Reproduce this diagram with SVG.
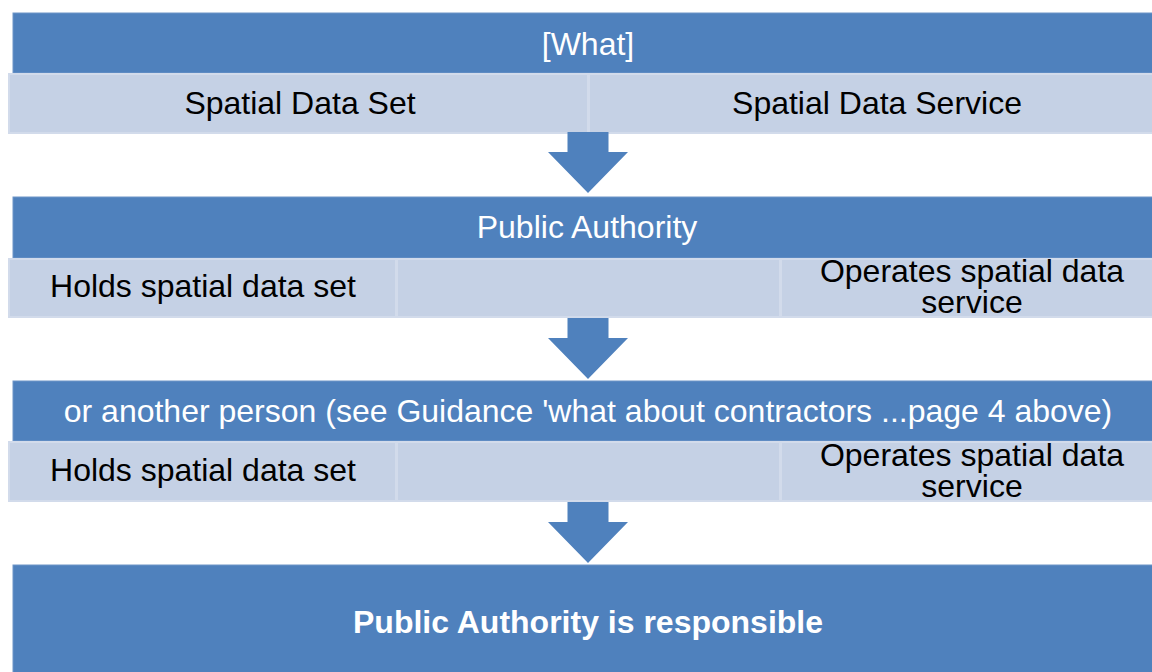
<svg xmlns="http://www.w3.org/2000/svg" width="1152" height="672" viewBox="0 0 1152 672">
<defs>
<style>
.hdr{fill:#4F81BD;stroke:#6F95C8;stroke-width:1}
.cell{fill:#C5D1E5;stroke:#D2DBEB;stroke-width:2}
.arr{fill:#4F81BD}
text{font-family:"Liberation Sans",Arial,sans-serif;font-size:32px;text-anchor:middle}
.w{fill:#FFFFFF}
.b{fill:#000000}
.bold{font-weight:bold}
</style>
<path id="arrow" d="M -20.5 0 L 20.5 0 L 20.5 20 L 40 20 L 0 61 L -40 20 L -20.5 20 Z"/>
</defs>
<rect width="1152" height="672" fill="#FFFFFF"/>
<g id="what-header">
<rect class="hdr" x="13" y="13" width="1145" height="60"/>
<text class="w" x="588" y="55">[What]</text>
</g>
<g id="what-row">
<rect class="cell" x="9" y="74" width="579" height="59"/>
<rect class="cell" x="589" y="74" width="570" height="59"/>
<text class="b" x="300" y="114">Spatial Data Set</text>
<text class="b" x="877" y="114">Spatial Data Service</text>
</g>
<g id="pa-header">
<rect class="hdr" x="13" y="197" width="1145" height="61"/>
<text class="w" x="587" y="238">Public Authority</text>
</g>
<g id="pa-row">
<rect class="cell" x="9" y="259" width="387" height="58"/>
<rect class="cell" x="397" y="259" width="383" height="58"/>
<rect class="cell" x="781" y="259" width="378" height="58"/>
<text class="b" x="203" y="297">Holds spatial data set</text>
<text class="b" x="972" y="282">Operates spatial data</text>
<text class="b" x="972" y="313">service</text>
</g>
<g id="other-header">
<rect class="hdr" x="13" y="381" width="1145" height="60"/>
<text class="w" x="588" y="422">or another person (see Guidance 'what about contractors ...page 4 above)</text>
</g>
<g id="other-row">
<rect class="cell" x="9" y="442" width="387" height="59"/>
<rect class="cell" x="397" y="442" width="383" height="59"/>
<rect class="cell" x="781" y="442" width="378" height="59"/>
<text class="b" x="203" y="481">Holds spatial data set</text>
<text class="b" x="972" y="466">Operates spatial data</text>
<text class="b" x="972" y="497">service</text>
</g>
<g id="result">
<rect class="hdr" x="13" y="565" width="1145" height="112"/>
<text class="w bold" x="588" y="633">Public Authority is responsible</text>
</g>
<g id="connectors">
<use href="#arrow" class="arr" x="588" y="132"/>
<use href="#arrow" class="arr" x="588" y="318"/>
<use href="#arrow" class="arr" x="588" y="502"/>
</g>
</svg>
